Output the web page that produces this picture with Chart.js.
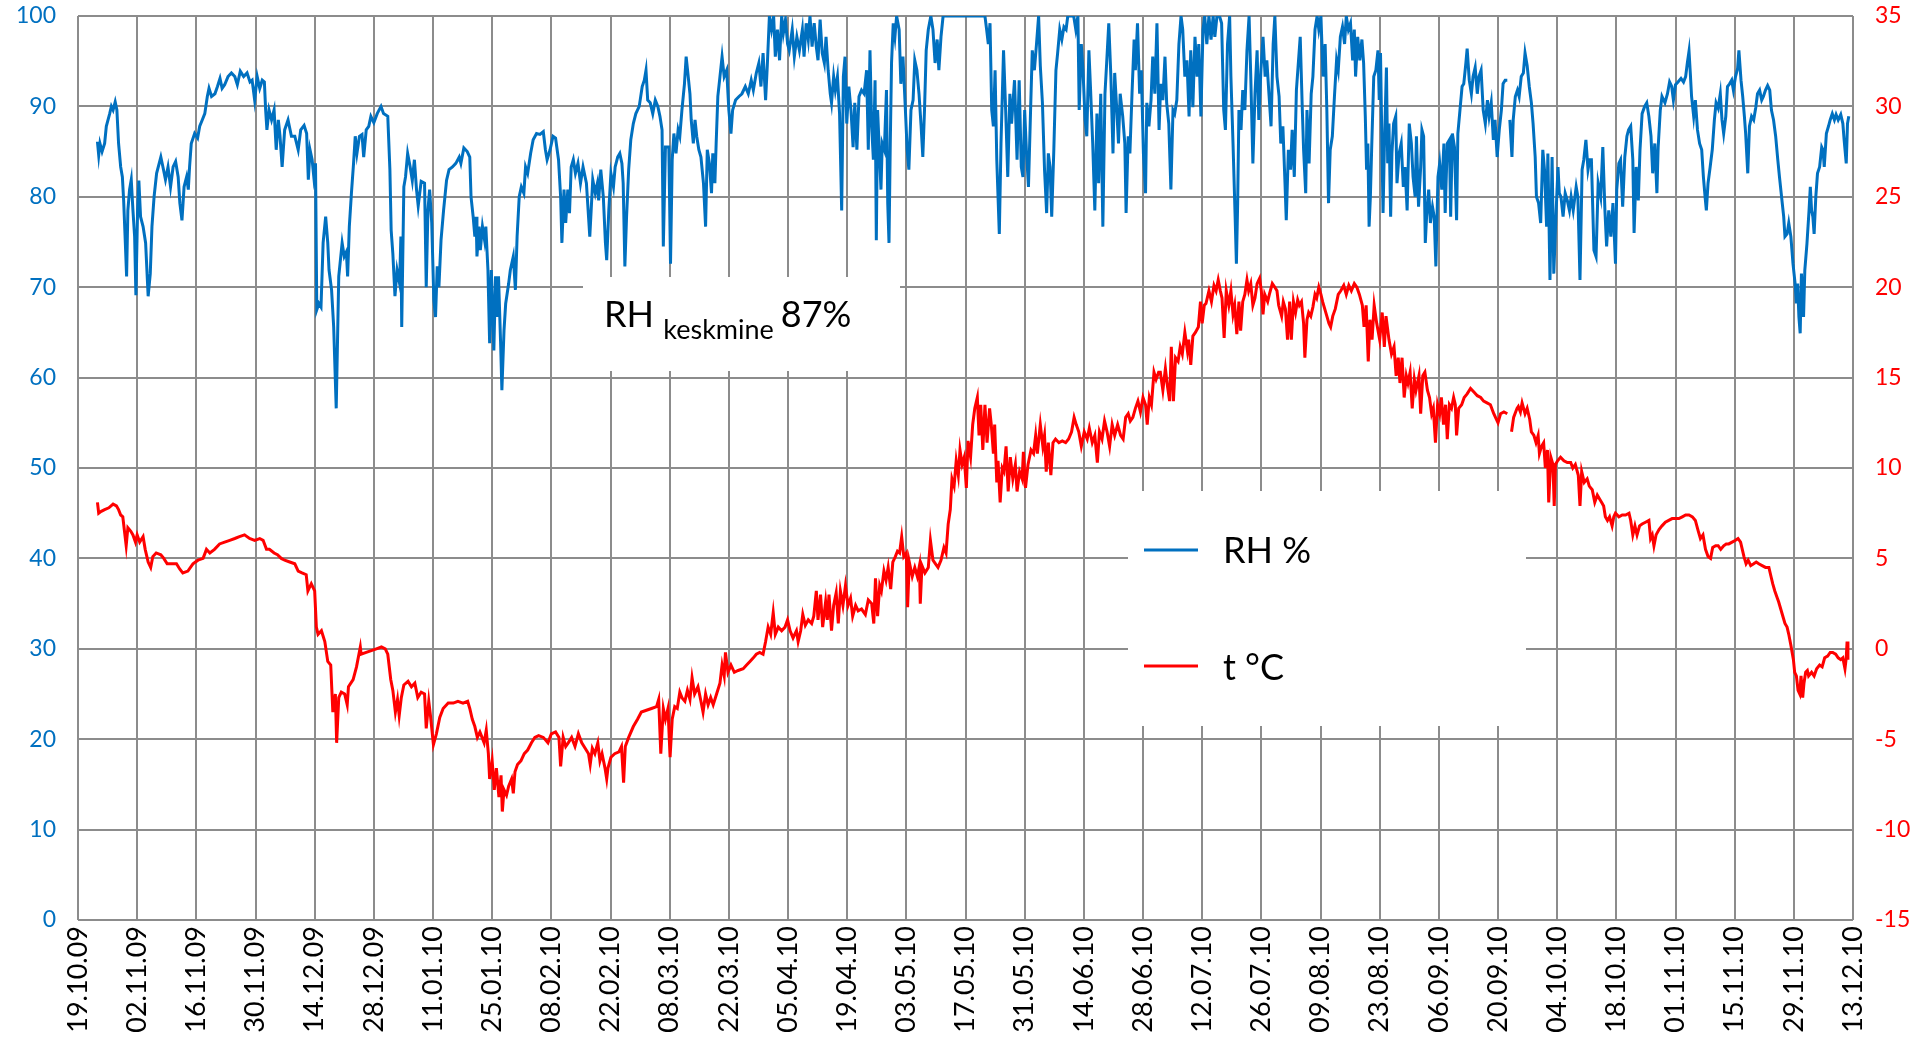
<!DOCTYPE html>
<html>
<head>
<meta charset="utf-8">
<script src="https://cdn.jsdelivr.net/npm/chart.js@4.4.1/dist/chart.umd.min.js"></script>
<style>
    html, body { margin: 0; padding: 0; background: #ffffff; }
    #wrap { width: 1931px; height: 1038px; position: relative; }
</style>
</head>
<body>
<div id="wrap"><canvas id="grafico"></canvas></div>
<script>
// päevad alates 19.10.09, silt iga 14 päeva järel
const dateLabels = ['19.10.09','02.11.09','16.11.09','30.11.09','14.12.09','28.12.09','11.01.10','25.01.10',
    '08.02.10','22.02.10','08.03.10','22.03.10','05.04.10','19.04.10','03.05.10','17.05.10','31.05.10',
    '14.06.10','28.06.10','12.07.10','26.07.10','09.08.10','23.08.10','06.09.10','20.09.10','04.10.10',
    '18.10.10','01.11.10','15.11.10','29.11.10','13.12.10'];

const rhTicks = [0, 100, 10];   // min, max, samm
const tTicks = [-15, 35, 5];

// [päev, RH %]
const rhReadings = [
    [4.6,86.1],[4.9,84.6],[5.2,85.9],[5.7,85.0],[6.3,85.9],[6.7,87.8],[7.5,89.2],[7.9,90.0],[8.3,89.6],[8.8,90.5],
    [9.2,89.6],[9.6,85.9],[10.1,83.3],[10.5,82.2],[10.8,79.6],[11.2,74.9],[11.5,71.2],[11.8,78.5],[12.2,80.8],[12.6,81.9],
    [13.0,78.5],[13.4,75.6],[13.7,69.1],[14.1,78.5],[14.4,81.8],[14.8,77.8],[15.4,76.7],[16.0,74.9],[16.6,69.0],[17.1,71.5],
    [17.5,76.7],[18.0,80.0],[18.6,82.6],[19.6,84.4],[20.1,83.3],[20.7,81.9],[21.3,83.3],[21.9,81.1],[22.5,83.3],[23.1,83.9],
    [23.7,82.2],[24.1,79.3],[24.6,77.4],[25.1,81.1],[25.7,82.2],[26.1,80.8],[26.4,83.3],[26.8,85.9],[27.6,87.0],[28.3,86.5],
    [28.8,87.8],[29.4,88.5],[30.0,89.2],[30.6,91.1],[31.0,92.0],[31.6,91.1],[32.4,91.4],[33.0,92.2],[33.6,93.1],[34.1,92.0],
    [34.7,92.4],[35.5,93.3],[36.3,93.7],[37.1,93.3],[37.7,92.4],[38.4,93.9],[39.2,93.3],[40.0,93.7],[40.7,92.7],[41.2,92.9],
    [41.8,90.7],[42.4,93.3],[43.0,92.0],[43.6,92.9],[44.1,92.7],[44.4,89.6],[44.7,87.4],[45.2,89.6],[45.8,88.5],[46.4,89.6],
    [46.9,85.2],[47.4,88.5],[47.8,86.7],[48.3,83.3],[48.9,87.4],[49.7,88.5],[50.5,86.7],[51.3,86.7],[52.1,85.2],[52.7,87.4],
    [53.5,87.9],[54.1,87.0],[54.5,81.9],[54.9,85.2],[55.4,84.1],[55.8,82.2],[56.2,83.7],[56.5,67.5],[57.0,68.2],[57.5,67.8],
    [58.0,74.9],[58.6,77.8],[59.1,74.9],[59.4,71.9],[60.0,69.7],[60.5,65.6],[61.1,56.6],[61.7,71.2],[62.5,74.9],[63.0,73.4],
    [63.5,73.9],[63.8,71.2],[64.2,76.7],[64.7,80.4],[65.2,83.7],[65.6,86.7],[66.0,84.8],[66.6,86.7],[67.2,86.9],[67.6,84.4],
    [68.2,87.4],[68.8,87.8],[69.3,88.9],[70.0,88.2],[70.8,89.2],[71.7,90.0],[72.3,89.2],[73.3,88.9],[73.8,83.0],[74.1,76.3],
    [74.5,73.7],[75.0,69.0],[75.5,71.9],[76.1,70.4],[76.4,75.6],[76.6,65.6],[77.1,81.1],[77.5,82.2],[78.0,84.8],[78.6,83.3],
    [79.1,81.8],[79.6,84.1],[80.1,80.8],[80.5,79.0],[81.2,81.7],[82.0,81.5],[82.4,70.0],[82.8,78.5],[83.2,80.8],[83.7,77.1],
    [84.2,68.6],[84.6,66.7],[85.0,72.3],[85.4,70.0],[85.9,75.2],[86.5,78.5],[87.2,81.8],[87.8,83.0],[88.6,83.3],[89.4,83.7],
    [90.2,84.4],[90.6,83.7],[91.3,85.4],[92.1,85.0],[92.7,84.4],[93.0,80.0],[93.5,77.8],[93.9,75.6],[94.2,77.8],[94.4,73.4],
    [94.9,76.7],[95.2,74.1],[95.7,76.7],[96.2,75.2],[96.5,76.7],[97.0,71.9],[97.4,63.8],[97.8,71.9],[98.1,67.5],[98.4,63.0],
    [98.8,71.2],[99.2,66.7],[99.5,71.2],[100.0,63.8],[100.3,58.6],[100.8,65.2],[101.2,68.2],[101.9,70.4],[102.3,71.9],[103.0,73.4],
    [103.5,69.7],[103.9,75.6],[104.4,80.0],[104.9,81.1],[105.5,80.4],[105.9,83.3],[106.4,82.6],[107.1,84.8],[107.7,86.3],[108.5,87.0],
    [109.3,86.9],[110.1,87.2],[110.6,85.2],[111.0,84.1],[111.7,85.2],[112.4,86.7],[113.0,86.5],[113.7,84.1],[114.2,80.0],[114.5,74.9],
    [115.0,80.8],[115.4,77.1],[115.9,80.8],[116.3,78.2],[116.7,83.3],[117.2,84.1],[117.7,82.6],[118.3,83.7],[118.9,81.5],[119.5,83.3],
    [120.3,81.5],[121.1,75.6],[121.8,81.9],[122.4,80.4],[122.9,81.5],[123.2,79.6],[123.7,83.0],[124.3,80.0],[124.8,74.9],[125.1,73.0],
    [125.6,78.5],[126.1,82.6],[126.7,81.1],[127.1,83.3],[127.7,84.4],[128.2,84.8],[128.7,83.7],[129.0,81.5],[129.4,72.3],[129.8,77.8],
    [130.3,83.0],[130.8,86.3],[131.4,88.1],[132.0,89.2],[132.8,90.0],[133.5,92.2],[134.0,92.9],[134.4,94.0],[134.8,90.7],[135.4,90.4],
    [136.0,89.2],[136.6,90.7],[137.2,90.0],[137.7,88.9],[138.2,87.4],[138.5,74.5],[139.0,85.5],[139.8,85.5],[140.2,72.6],[140.6,84.1],
    [141.0,87.0],[141.5,84.8],[142.0,87.4],[142.4,86.7],[142.9,89.6],[143.5,92.5],[143.9,95.5],[144.3,93.7],[144.8,91.4],[145.1,88.5],
    [145.6,85.9],[146.0,88.5],[146.4,86.7],[146.9,85.2],[147.4,84.4],[148.0,81.5],[148.5,76.7],[148.9,85.2],[149.4,83.7],[149.9,80.4],
    [150.2,84.8],[150.7,81.5],[151.0,85.9],[151.4,91.1],[151.9,93.3],[152.4,95.5],[152.9,93.3],[153.5,94.0],[154.0,89.6],[154.5,87.0],
    [154.9,89.6],[155.6,90.7],[156.4,91.1],[157.1,91.4],[157.9,92.2],[158.6,91.4],[159.3,92.9],[159.8,91.8],[160.5,93.7],[161.1,94.8],
    [161.6,92.2],[162.1,95.9],[162.7,90.7],[163.1,94.5],[163.6,100],[164.1,98.5],[164.6,100],[165.0,95.5],[165.5,98.5],[166.0,95.1],
    [166.5,100],[166.9,98.1],[167.4,99.6],[167.9,96.9],[168.3,96.2],[169.0,98.5],[169.5,95.5],[170.1,97.7],[170.7,96.2],[171.4,98.5],
    [171.8,95.5],[172.3,99.2],[172.8,97.4],[173.2,100],[173.7,96.6],[174.2,99.2],[174.7,96.6],[175.1,95.1],[175.6,99.6],[176.1,95.9],
    [176.6,94.8],[177.0,97.7],[177.5,94.0],[178.0,91.4],[178.3,90.4],[178.8,93.3],[179.2,91.8],[179.7,93.3],[180.2,89.2],[180.7,78.5],
    [181.1,93.3],[181.5,95.5],[181.9,88.1],[182.4,92.2],[182.9,89.6],[183.4,85.5],[183.8,90.4],[184.3,85.2],[184.8,91.1],[185.4,91.8],
    [186.0,91.4],[186.6,94.0],[187.0,85.2],[187.4,96.2],[187.8,87.8],[188.2,84.1],[188.6,92.9],[188.9,75.2],[189.2,89.6],[189.7,84.1],
    [190.0,80.8],[190.3,85.9],[190.8,85.2],[191.3,91.8],[191.6,79.3],[191.9,74.9],[192.2,85.9],[192.5,94.8],[192.9,99.2],[193.3,97.7],
    [193.7,100],[194.3,98.5],[194.7,92.5],[195.2,95.5],[195.7,90.4],[196.2,85.2],[196.6,83.0],[197.1,89.6],[197.6,90.7],[198.0,95.1],
    [198.5,94.0],[199.0,91.4],[199.5,87.8],[199.9,84.4],[200.3,89.6],[200.7,96.2],[201.2,98.5],[201.8,100],[202.3,98.5],[202.8,94.8],
    [203.3,97.4],[203.7,94.0],[204.2,97.7],[204.7,100],[214.6,100],[215.0,98.5],[215.4,96.9],[215.8,99.2],[216.2,89.6],[216.6,87.8],
    [217.0,94.0],[217.4,84.1],[218.0,75.9],[218.4,85.9],[219.0,96.2],[219.5,89.6],[220.0,82.2],[220.5,91.4],[220.9,88.1],[221.6,92.9],
    [222.2,84.1],[222.7,92.9],[223.2,83.3],[223.6,82.2],[224.0,89.6],[224.4,85.2],[224.9,81.1],[225.4,89.6],[225.8,96.2],[226.3,94.0],
    [226.8,96.9],[227.3,100],[227.7,94.5],[228.2,90.4],[228.7,83.0],[229.2,78.2],[229.6,84.8],[230.0,83.3],[230.4,77.8],[230.9,85.2],
    [231.4,94.0],[231.8,95.9],[232.3,98.5],[232.8,97.4],[233.3,98.8],[233.8,98.5],[234.2,100],[235.6,100],[236.1,98.5],[236.6,100],
    [236.9,89.6],[237.4,96.9],[237.8,94.0],[238.3,88.5],[238.7,86.7],[239.2,96.2],[239.6,91.8],[240.1,85.9],[240.6,78.5],[241.1,89.2],
    [241.5,81.5],[242.0,91.4],[242.5,76.7],[243.0,91.4],[243.4,94.8],[243.9,99.2],[244.4,93.3],[244.9,84.8],[245.3,93.7],[245.8,89.6],
    [246.2,85.9],[246.6,91.4],[247.2,88.9],[247.7,85.9],[248.0,78.2],[248.5,86.7],[248.9,84.8],[249.4,91.4],[249.9,97.4],[250.2,94.0],
    [250.7,99.2],[251.2,91.4],[251.6,94.0],[252.1,84.8],[252.6,80.4],[252.9,90.4],[253.4,87.8],[253.9,90.7],[254.3,95.5],[254.8,91.4],
    [255.3,99.2],[255.8,87.4],[256.2,92.5],[256.7,90.7],[257.2,95.5],[257.6,90.4],[258.1,88.1],[258.6,80.8],[259.1,89.6],[259.5,89.2],
    [260.0,90.7],[260.5,96.9],[261.0,100],[261.4,98.5],[261.9,93.3],[262.4,95.1],[262.9,88.9],[263.3,96.2],[263.8,89.9],[264.3,97.7],
    [264.8,93.3],[265.2,96.9],[265.7,88.9],[266.2,98.5],[266.6,100],[267.1,96.9],[267.6,100],[268.1,97.4],[268.6,100],[269.0,97.7],
    [269.5,100],[270.1,100],[270.6,99.2],[271.1,89.6],[271.5,87.4],[272.0,96.9],[272.5,100],[272.8,93.3],[273.3,85.9],[273.8,77.8],
    [274.1,72.6],[274.4,79.3],[274.7,89.6],[275.2,87.4],[275.6,91.8],[276.1,89.6],[276.6,96.2],[277.1,100],[277.5,93.3],[278.0,83.7],
    [278.5,91.4],[279.0,96.2],[279.4,88.5],[279.9,94.0],[280.4,97.7],[280.9,93.3],[281.3,95.1],[281.8,91.4],[282.3,87.8],[282.8,96.9],
    [283.2,100],[283.7,93.3],[284.2,91.1],[284.6,85.9],[285.1,87.8],[285.6,81.5],[285.9,77.4],[286.4,85.2],[286.9,83.0],[287.3,87.4],
    [287.8,82.2],[288.3,91.8],[288.8,95.1],[289.2,97.7],[289.7,89.6],[290.0,85.2],[290.5,80.4],[290.8,89.6],[291.3,83.7],[291.8,91.4],
    [292.2,93.3],[292.7,98.5],[293.2,100],[293.6,98.5],[294.1,100],[294.6,93.3],[295.1,96.9],[295.5,89.6],[295.9,79.3],[296.3,85.2],
    [296.8,86.7],[297.3,91.1],[297.8,95.1],[298.2,94.0],[298.7,97.7],[299.2,98.8],[299.7,96.9],[300.1,100],[300.6,98.5],[301.1,99.2],
    [301.6,95.1],[302.0,98.5],[302.3,93.3],[302.8,97.7],[303.3,95.1],[303.8,97.4],[304.2,94.8],[304.6,88.9],[304.9,83.0],[305.2,85.9],
    [305.5,76.7],[305.8,80.0],[306.1,85.2],[306.6,93.3],[307.1,94.0],[307.6,96.2],[307.9,90.7],[308.2,95.9],[308.5,86.7],[308.8,78.2],
    [309.1,85.2],[309.6,94.3],[309.9,83.7],[310.2,88.1],[310.6,77.8],[310.9,84.8],[311.3,88.1],[311.8,88.9],[312.1,81.5],[312.6,84.8],
    [313.1,85.9],[313.6,81.1],[314.0,83.3],[314.5,78.5],[315.0,88.1],[315.5,85.9],[315.9,82.2],[316.4,80.0],[316.7,86.7],[317.2,78.9],
    [317.7,83.3],[318.0,87.4],[318.4,86.7],[318.8,74.9],[319.1,77.8],[319.6,80.8],[320.0,77.1],[320.5,78.9],[320.9,77.8],[321.3,72.3],
    [321.8,82.2],[322.2,83.7],[322.7,80.8],[323.2,85.9],[323.5,78.2],[324.0,85.9],[324.5,86.3],[324.8,77.8],[325.2,87.0],[325.7,85.5],
    [326.2,77.4],[326.5,87.0],[327.0,89.6],[327.5,92.2],[327.9,92.5],[328.4,94.8],[328.7,96.4],[329.2,92.9],[329.7,91.4],[330.1,93.3],
    [330.6,94.3],[331.1,91.4],[331.5,93.3],[332.0,94.0],[332.5,89.6],[333.0,88.1],[333.5,90.7],[333.9,88.9],[334.4,90.4],[334.9,86.3],
    [335.3,88.5],[335.8,84.4],[336.3,87.4],[336.8,89.6],[337.2,92.5],[337.7,92.9],[338.2,92.9],[338.5,null],[338.8,88.5],[339.3,84.4],
    [339.6,88.5],[340.1,91.1],[340.6,91.8],[341.0,91.1],[341.5,93.3],[342.0,93.7],[342.4,95.9],[342.9,94.5],[343.4,92.2],[343.9,90.4],
    [344.3,88.1],[344.8,84.4],[345.1,80.0],[345.6,79.3],[346.1,77.1],[346.6,85.2],[347.0,83.0],[347.5,76.7],[347.8,84.8],[348.3,70.8],
    [348.8,84.4],[349.2,71.5],[349.7,77.8],[350.2,83.3],[350.5,80.4],[350.9,80.0],[351.4,77.8],[351.9,80.4],[352.4,79.6],[352.9,78.5],
    [353.3,80.0],[353.8,78.5],[354.5,81.1],[354.9,80.0],[355.4,70.8],[355.9,83.0],[356.3,84.1],[356.8,86.3],[357.3,83.0],[357.7,84.1],
    [358.1,84.1],[358.7,74.1],[359.2,73.4],[359.7,81.5],[360.3,80.0],[360.8,85.5],[361.3,78.5],[361.7,74.5],[362.2,78.5],[362.7,75.6],
    [363.2,79.3],[363.8,72.6],[364.1,80.8],[364.6,83.7],[365.0,84.1],[365.5,78.9],[366.0,84.4],[366.5,86.7],[366.9,87.4],[367.4,87.8],
    [367.9,84.1],[368.2,76.0],[368.7,83.3],[369.2,79.6],[369.6,85.2],[370.1,89.2],[370.7,90.0],[371.2,90.4],[371.7,88.9],[372.2,86.7],
    [372.6,82.6],[373.1,85.9],[373.6,80.4],[373.9,85.5],[374.4,89.6],[374.8,91.1],[375.5,90.4],[376.1,91.4],[376.6,92.7],[377.1,92.2],
    [377.5,90.7],[378.0,92.4],[378.6,92.7],[379.3,93.1],[379.9,92.7],[380.4,93.3],[380.8,94.8],[381.2,96.1],[381.5,93.7],[381.8,91.1],
    [382.3,88.9],[382.7,90.7],[383.2,87.4],[383.7,85.9],[384.2,85.2],[384.6,82.2],[385.0,80.0],[385.3,78.5],[385.7,81.5],[386.2,83.3],
    [386.7,85.2],[387.2,88.5],[387.6,90.4],[388.1,89.8],[388.6,91.4],[389.0,88.5],[389.4,87.0],[389.9,88.9],[390.3,92.2],[390.8,92.5],
    [391.3,92.9],[391.7,91.8],[392.2,93.3],[392.7,94.2],[393.0,96.2],[393.5,92.9],[393.9,91.1],[394.3,88.9],[394.6,87.0],[395.1,82.6],
    [395.5,87.8],[396.0,88.9],[396.5,88.5],[397.0,89.9],[397.4,91.4],[397.9,91.8],[398.4,90.7],[398.8,91.1],[399.3,91.8],[399.8,92.3],
    [400.3,91.8],[400.7,89.6],[401.2,88.5],[401.7,86.7],[402.2,84.1],[402.6,82.2],[403.1,80.0],[403.6,77.8],[403.9,75.6],[404.4,75.9],
    [404.8,77.1],[405.3,75.6],[405.8,72.6],[406.3,70.4],[406.6,68.2],[406.9,70.4],[407.2,66.7],[407.5,64.9],[407.8,71.5],[408.3,66.7],
    [408.6,71.9],[409.1,74.8],[409.6,78.5],[409.9,81.1],[410.2,78.5],[410.5,77.8],[410.8,75.9],[411.2,80.0],[411.6,82.6],[412.1,83.3],
    [412.6,85.5],[412.9,85.2],[413.2,83.3],[413.7,87.0],[414.2,87.8],[414.6,88.5],[415.1,89.2],[415.6,88.5],[416.0,89.1],[416.5,88.5],
    [417.1,89.1],[417.6,88.1],[417.9,86.3],[418.4,83.7],[418.7,88.1],[419.0,88.9]
];

// [päev, t °C]
const tReadings = [
    [4.6,8.1],[4.9,7.5],[5.5,7.6],[6.3,7.7],[7.3,7.8],[8.3,8.0],[9.1,7.9],[9.6,7.7],[10.1,7.4],[10.6,7.3],
    [11.0,6.5],[11.4,5.7],[11.8,6.7],[12.5,6.5],[13.0,6.3],[13.6,5.9],[14.0,6.3],[14.6,5.9],[15.4,6.2],[15.9,5.5],
    [16.6,4.8],[17.2,4.5],[17.7,5.1],[18.5,5.3],[19.6,5.2],[20.3,5.0],[21.1,4.7],[22.1,4.7],[23.3,4.7],[24.1,4.4],
    [24.8,4.2],[26.0,4.3],[27.2,4.7],[28.4,4.9],[29.6,5.0],[30.4,5.5],[31.2,5.3],[32.3,5.5],[33.5,5.8],[34.7,5.9],
    [35.9,6.0],[37.1,6.1],[38.2,6.2],[39.4,6.3],[40.6,6.1],[41.8,6.0],[43.0,6.1],[43.8,6.0],[44.6,5.5],[45.3,5.5],
    [46.4,5.3],[47.2,5.2],[48.1,5.0],[48.9,4.9],[50.1,4.8],[51.3,4.7],[52.1,4.3],[53.0,4.2],[54.0,4.1],[54.4,3.2],
    [55.2,3.6],[56.0,3.2],[56.4,1.2],[56.8,0.8],[57.6,1.0],[58.4,0.4],[59.1,-0.7],[59.8,-0.9],[60.3,-3.5],[60.9,-2.5],
    [61.2,-5.2],[61.7,-2.7],[62.3,-2.4],[63.1,-2.5],[63.7,-3.1],[64.0,-2.1],[65.1,-1.7],[65.9,-1.0],[66.8,0.1],[67.0,-0.3],
    [68.2,-0.2],[69.4,-0.1],[70.6,0.0],[71.8,0.1],[72.7,0.0],[73.3,-0.3],[74.0,-1.7],[74.5,-2.3],[75.1,-3.5],[75.6,-2.8],
    [76.0,-3.7],[76.5,-2.7],[77.1,-2.0],[78.1,-1.8],[78.9,-2.1],[79.7,-1.9],[80.4,-2.7],[81.2,-2.4],[82.0,-2.5],[82.4,-4.4],
    [83.0,-2.9],[83.4,-3.7],[84.1,-5.3],[84.8,-4.7],[85.6,-3.8],[86.4,-3.3],[87.6,-3.0],[88.8,-3.0],[89.9,-2.9],[91.1,-3.0],
    [92.2,-2.9],[92.7,-3.3],[93.3,-3.9],[93.9,-4.3],[94.5,-4.9],[95.1,-4.6],[95.6,-4.9],[96.1,-5.2],[96.6,-4.5],[97.1,-5.8],
    [97.4,-7.2],[98.0,-6.2],[98.5,-7.8],[99.0,-6.6],[99.6,-8.2],[100.1,-7.0],[100.4,-9.0],[100.8,-7.8],[101.4,-8.1],[101.9,-7.6],
    [102.6,-7.2],[103.0,-8.0],[103.4,-6.8],[104.0,-6.4],[104.8,-6.2],[105.6,-5.8],[106.4,-5.6],[107.3,-5.2],[108.1,-4.9],[109.0,-4.8],
    [110.1,-4.9],[111.2,-5.2],[112.0,-4.7],[113.0,-4.6],[113.8,-4.9],[114.2,-6.5],[114.8,-4.9],[115.4,-5.4],[116.0,-5.2],[116.8,-4.9],
    [117.6,-5.4],[118.4,-4.7],[119.2,-5.2],[120.0,-5.5],[120.8,-5.8],[121.2,-6.4],[121.7,-5.5],[122.3,-5.8],[123.0,-5.2],[123.5,-6.2],
    [124.0,-5.8],[124.7,-6.6],[125.1,-7.2],[125.4,-6.6],[126.1,-6.0],[127.0,-5.8],[128.0,-5.7],[128.6,-5.4],[129.1,-7.4],[129.5,-5.4],
    [130.3,-4.9],[131.4,-4.3],[132.4,-3.9],[133.3,-3.5],[134.5,-3.4],[135.7,-3.3],[136.9,-3.2],[137.4,-2.8],[137.9,-5.8],[138.5,-3.3],
    [139.0,-3.9],[139.6,-3.3],[140.1,-6.0],[140.6,-3.9],[141.2,-3.2],[141.8,-3.3],[142.4,-2.4],[142.9,-2.7],[143.6,-2.9],[144.2,-2.3],
    [144.8,-2.8],[145.3,-1.6],[145.9,-2.5],[146.7,-2.1],[147.4,-2.9],[147.9,-3.5],[148.5,-2.5],[149.1,-3.1],[149.7,-2.7],[150.3,-3.1],
    [151.1,-2.5],[151.9,-1.9],[152.4,-0.9],[152.9,-1.5],[153.2,-0.2],[153.8,-1.3],[154.5,-0.9],[155.3,-1.3],[156.2,-1.2],[157.4,-1.1],
    [158.2,-0.9],[159.0,-0.7],[159.8,-0.5],[160.5,-0.3],[161.3,-0.2],[162.1,-0.3],[162.7,0.4],[163.3,1.2],[163.9,0.8],[164.5,2.0],
    [165.0,0.8],[165.7,1.2],[166.5,1.0],[167.3,1.2],[167.9,1.6],[168.5,1.0],[169.2,0.6],[170.0,1.0],[170.4,0.4],[171.0,1.0],
    [171.5,1.9],[172.1,1.3],[172.8,1.6],[173.6,1.4],[174.1,1.8],[174.7,3.2],[175.1,1.6],[175.7,3.0],[176.2,1.2],[176.9,2.6],
    [177.3,1.6],[177.7,3.0],[178.3,1.0],[178.8,2.4],[179.4,3.1],[179.9,1.4],[180.4,3.2],[181.0,2.4],[181.6,3.5],[182.2,2.4],
    [182.8,2.8],[183.3,1.8],[184.0,2.4],[184.6,2.1],[185.4,2.2],[186.3,1.9],[187.0,2.7],[187.8,2.5],[188.3,1.4],[188.7,3.9],
    [189.2,1.8],[189.7,3.5],[190.1,3.2],[190.7,4.3],[191.2,3.8],[191.7,4.5],[192.3,3.3],[192.8,4.8],[193.4,5.1],[193.9,5.4],
    [194.4,5.3],[194.9,6.2],[195.4,5.1],[196.0,5.3],[196.3,2.3],[196.7,4.8],[197.4,4.0],[198.0,4.5],[198.6,4.0],[199.1,4.6],
    [199.3,2.5],[199.7,4.6],[200.4,4.2],[201.2,4.5],[201.7,6.0],[202.3,4.9],[202.9,4.7],[203.5,4.5],[204.2,4.9],[204.9,5.6],
    [205.4,5.3],[205.9,6.9],[206.4,7.7],[206.8,9.4],[207.3,9.0],[207.8,10.4],[208.3,9.6],[208.7,11.0],[209.2,10.2],[209.7,10.6],
    [210.2,8.9],[210.6,11.5],[211.2,10.6],[211.7,12.4],[212.2,13.3],[212.8,13.9],[213.2,11.8],[213.6,13.5],[214.1,11.0],[214.6,13.5],
    [215.1,11.4],[215.7,13.3],[216.1,12.4],[216.6,10.8],[216.9,12.4],[217.4,9.2],[217.7,10.4],[218.2,8.1],[218.7,10.0],[219.1,9.8],
    [219.6,11.2],[220.1,8.7],[220.6,10.6],[221.2,9.4],[221.8,10.2],[222.2,8.7],[222.8,9.8],[223.4,9.4],[223.7,10.9],[224.2,8.9],
    [224.8,10.2],[225.5,11.0],[226.1,10.8],[226.6,11.8],[227.0,10.8],[227.7,12.4],[228.3,11.2],[228.7,11.8],[229.1,9.8],[229.6,11.4],
    [230.2,9.6],[230.7,11.4],[231.3,11.6],[232.1,11.4],[232.9,11.5],[233.7,11.4],[234.4,11.6],[235.1,12.0],[235.7,12.8],[236.2,12.4],
    [236.8,12.0],[237.4,11.2],[238.1,12.0],[238.8,11.6],[239.3,12.2],[240.0,11.4],[240.6,11.8],[241.2,10.3],[241.7,12.0],[242.3,11.6],
    [242.9,12.6],[243.5,12.0],[244.1,11.2],[244.7,12.4],[245.3,11.8],[246.0,12.4],[246.7,11.8],[247.3,11.6],[247.9,12.8],[248.5,13.0],
    [249.0,12.6],[249.6,12.8],[250.2,13.3],[250.8,13.7],[251.4,13.1],[252.0,13.9],[252.6,13.5],[253.0,12.4],[253.5,13.9],[254.0,13.5],
    [254.6,15.3],[255.1,14.9],[255.7,15.3],[256.1,15.3],[256.7,14.3],[257.3,15.5],[257.8,14.5],[258.3,13.7],[258.7,16.7],[259.2,13.7],
    [259.7,16.1],[260.3,15.9],[260.8,16.7],[261.3,16.3],[261.9,17.5],[262.5,16.5],[262.8,17.1],[263.3,15.7],[263.8,17.3],[264.4,17.5],
    [265.1,17.8],[265.6,19.2],[266.0,18.0],[266.5,19.0],[266.9,19.1],[267.6,19.8],[268.2,19.2],[268.8,20.1],[269.3,19.8],[269.8,20.4],
    [270.3,19.8],[270.7,19.4],[271.2,17.2],[271.7,19.8],[272.3,19.0],[272.8,19.8],[273.3,18.5],[273.7,19.0],[274.2,17.4],[274.7,19.2],
    [275.1,17.6],[275.6,19.2],[276.1,19.6],[276.6,20.4],[277.0,19.8],[277.5,20.2],[278.0,19.0],[278.5,19.4],[279.0,20.2],[279.6,20.5],
    [280.0,19.8],[280.4,18.5],[280.8,19.6],[281.5,19.2],[281.9,19.6],[282.6,20.2],[283.2,20.0],[283.7,19.8],[284.1,19.0],[284.8,18.4],
    [285.2,19.2],[285.7,18.8],[286.2,17.1],[286.7,19.2],[287.1,17.1],[287.6,19.2],[288.1,18.6],[288.6,19.3],[289.0,19.0],[289.5,19.2],
    [290.0,18.0],[290.3,16.1],[290.8,18.2],[291.2,18.6],[291.7,18.4],[292.2,18.9],[292.7,19.6],[293.1,19.4],[293.6,20.0],[294.1,19.6],
    [294.5,19.2],[295.0,18.8],[295.5,18.4],[296.0,18.0],[296.4,17.8],[296.9,18.4],[297.5,18.8],[298.2,19.6],[298.8,19.8],[299.5,20.1],
    [300.1,19.6],[300.7,20.1],[301.3,19.8],[302.0,20.2],[302.6,20.0],[303.2,19.6],[303.9,19.0],[304.3,17.8],[304.8,19.0],[305.3,15.9],
    [305.7,18.2],[306.2,17.1],[306.7,19.0],[307.3,18.0],[308.0,17.1],[308.6,18.6],[309.1,16.7],[309.5,18.4],[310.2,17.1],[310.8,16.3],
    [311.4,16.7],[311.9,15.1],[312.4,16.1],[312.8,14.7],[313.3,16.1],[313.8,13.9],[314.3,15.1],[314.7,14.7],[315.2,15.3],[315.7,13.3],
    [316.2,14.9],[316.6,14.3],[317.3,15.1],[317.7,13.0],[318.2,15.1],[318.7,15.3],[319.3,14.3],[319.8,13.9],[320.3,13.0],[320.7,13.3],
    [321.2,11.4],[321.7,13.5],[322.2,13.0],[322.6,13.9],[323.1,12.4],[323.6,13.5],[324.0,11.6],[324.5,13.5],[325.0,13.3],[325.5,13.9],
    [325.9,13.5],[326.2,11.8],[326.7,13.3],[327.4,13.5],[328.0,13.9],[328.7,14.1],[329.5,14.4],[330.3,14.2],[331.1,14.0],[331.9,13.9],
    [332.6,13.7],[333.4,13.6],[334.2,13.5],[335.0,13.0],[335.6,12.7],[336.0,12.5],[336.6,13.0],[337.4,13.1],[338.2,13.0],[338.7,null],
    [339.2,12.0],[339.7,12.8],[340.5,13.3],[340.8,13.4],[341.3,13.1],[341.7,13.6],[342.4,13.0],[342.9,13.3],[343.5,12.7],[343.9,12.0],
    [344.5,11.8],[345.0,11.4],[345.5,11.8],[345.8,10.8],[346.3,11.2],[346.8,11.4],[347.2,10.0],[347.7,11.0],[348.0,8.1],[348.5,10.6],
    [349.0,10.2],[349.3,7.9],[349.6,10.2],[350.1,10.4],[350.8,10.6],[351.6,10.4],[352.4,10.3],[353.2,10.3],[353.7,10.0],[354.3,10.2],
    [355.0,9.6],[355.4,7.9],[355.8,9.8],[356.4,9.2],[357.1,9.4],[357.6,9.0],[358.3,8.8],[358.9,8.1],[359.5,8.5],[360.0,8.3],
    [360.5,8.1],[361.0,7.9],[361.4,7.3],[361.9,7.1],[362.4,7.3],[363.0,6.8],[363.4,7.3],[363.8,7.5],[364.6,7.3],[365.4,7.4],
    [366.2,7.4],[367.0,7.5],[367.4,7.1],[367.9,6.3],[368.4,6.8],[368.9,6.3],[369.5,6.8],[370.1,6.9],[370.9,7.0],[371.7,7.1],
    [372.1,6.1],[372.5,6.3],[372.9,5.7],[373.4,6.3],[374.1,6.6],[374.8,6.8],[375.6,7.0],[376.4,7.1],[377.2,7.2],[378.0,7.2],
    [378.8,7.2],[379.6,7.3],[380.4,7.4],[381.2,7.4],[382.0,7.3],[382.7,7.1],[383.4,6.5],[383.9,6.1],[384.5,6.3],[385.1,5.5],
    [385.7,5.1],[386.3,5.0],[386.8,5.6],[387.5,5.7],[388.1,5.7],[388.7,5.5],[389.4,5.7],[390.0,5.8],[390.6,5.8],[391.4,5.9],
    [392.2,6.0],[392.8,6.1],[393.4,5.9],[393.8,5.5],[394.2,5.1],[394.7,4.7],[395.2,4.9],[395.8,4.6],[396.5,4.7],[397.1,4.8],
    [397.7,4.7],[398.5,4.6],[399.3,4.5],[400.1,4.5],[400.6,4.0],[401.0,3.6],[401.5,3.2],[402.1,2.8],[402.4,2.6],[402.9,2.2],
    [403.4,1.8],[403.9,1.4],[404.4,1.2],[404.8,0.8],[405.3,0.2],[405.6,-0.2],[405.9,-0.6],[406.2,-1.3],[406.6,-1.5],[407.0,-2.3],
    [407.4,-2.5],[407.7,-1.5],[408.1,-2.7],[408.4,-1.9],[408.8,-1.3],[409.2,-1.2],[409.5,-1.5],[410.2,-1.3],[410.8,-1.5],[411.4,-1.1],
    [412.1,-0.9],[412.7,-1.0],[413.3,-0.5],[414.0,-0.4],[414.6,-0.2],[415.2,-0.2],[415.9,-0.3],[416.5,-0.5],[417.1,-0.6],[417.6,-0.5],
    [418.1,-1.1],[418.4,-0.5],[418.6,0.4],[418.8,-0.6]
];

const rhAverage = 87;

const SININE = '#0070c0';
const PUNANE = '#ff0000';
const VORK = '#8c8c8c';
const FONT = 'Lato, "Open Sans", sans-serif';

// valged kastid: keskmine RH ja legend
const kastid = {
    id: 'kastid',
    beforeDatasetsDraw(chart) {
        const ctx = chart.ctx;
        ctx.save();
        ctx.fillStyle = '#ffffff';
        ctx.fillRect(583, 277, 317, 94);
        ctx.fillRect(1128, 491, 398, 235);

        // RH keskmine 87%
        ctx.fillStyle = '#000000';
        ctx.textBaseline = 'alphabetic';
        ctx.font = '36px ' + FONT;
        let x = 604;
        ctx.fillText('RH', x, 327);
        x += ctx.measureText('RH ').width;
        ctx.font = '27px ' + FONT;
        ctx.fillText('keskmine', x, 339);
        x += ctx.measureText('keskmine ').width;
        ctx.font = '36px ' + FONT;
        ctx.fillText(rhAverage + '%', x, 327);

        // legend
        ctx.lineWidth = 3;
        ctx.strokeStyle = SININE;
        ctx.beginPath(); ctx.moveTo(1144, 550); ctx.lineTo(1198, 550); ctx.stroke();
        ctx.strokeStyle = PUNANE;
        ctx.beginPath(); ctx.moveTo(1144, 666); ctx.lineTo(1198, 666); ctx.stroke();
        ctx.font = '36px ' + FONT;
        ctx.fillText('RH %', 1223, 563);
        ctx.fillText('t °C', 1223, 680);
        ctx.restore();
    }
};

// telgede laiused kindlaks, et joonisala oleks nagu originaalis
function fixY(s) { s.width = 78; s.paddingTop = 0; s.paddingBottom = 0; }

const graafik = new Chart(document.getElementById('grafico'), {
    type: 'line',
    data: {
        datasets: [{
            label: 'RH %',
            data: rhReadings.map(p => ({ x: p[0], y: p[1] })),
            yAxisID: 'yRH',
            borderColor: SININE,
            borderWidth: 3,
            pointRadius: 0,
            tension: 0,
            spanGaps: false
        }, {
            label: 't °C',
            data: tReadings.map(p => ({ x: p[0], y: p[1] })),
            yAxisID: 'yT',
            borderColor: PUNANE,
            borderWidth: 3,
            pointRadius: 0,
            tension: 0,
            spanGaps: false
        }]
    },
    options: {
        responsive: true,
        maintainAspectRatio: false,
        devicePixelRatio: 1,
        animation: false,
        layout: { padding: { top: 16, left: 0, right: 0, bottom: 0 } },
        plugins: {
            legend: { display: false },
            tooltip: { enabled: false }
        },
        scales: {
            x: {
                type: 'linear',
                min: 0,
                max: 420,
                afterFit: s => { s.height = 118; s.paddingLeft = 0; s.paddingRight = 0; },
                grid: { color: VORK, lineWidth: 2, drawTicks: false },
                border: { display: false },
                ticks: {
                    stepSize: 14,
                    autoSkip: false,
                    minRotation: 90,
                    maxRotation: 90,
                    padding: 6,
                    color: '#000000',
                    font: { family: FONT, size: 27 },
                    callback: v => dateLabels[Math.round(v / 14)]
                }
            },
            yRH: {
                position: 'left',
                min: rhTicks[0],
                max: rhTicks[1],
                afterFit: fixY,
                grid: { color: VORK, lineWidth: 2, drawTicks: false },
                border: { display: false },
                ticks: {
                    stepSize: rhTicks[2],
                    padding: 22,
                    color: SININE,
                    font: { family: FONT, size: 23 }
                }
            },
            yT: {
                position: 'right',
                min: tTicks[0],
                max: tTicks[1],
                afterFit: fixY,
                grid: { drawOnChartArea: false, drawTicks: false },
                border: { display: false },
                ticks: {
                    stepSize: tTicks[2],
                    padding: 22,
                    color: PUNANE,
                    font: { family: FONT, size: 23 }
                }
            }
        }
    },
    plugins: [kastid]
});
</script>
</body>
</html>
